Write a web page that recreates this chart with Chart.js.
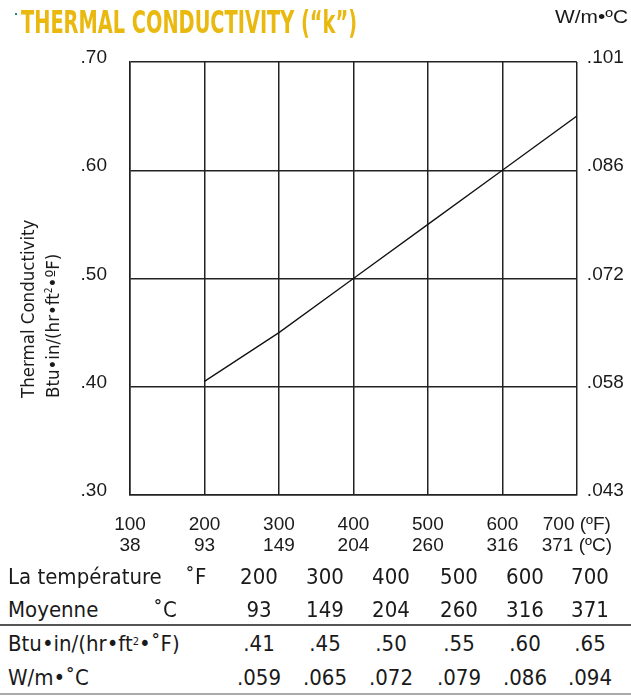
<!DOCTYPE html>
<html>
<head>
<meta charset="utf-8">
<script src="https://cdn.jsdelivr.net/npm/chart.js@4.4.1/dist/chart.umd.min.js"></script>
<style>
  html, body { margin:0; padding:0; background:#fff; width:631px; height:696px; overflow:hidden; }
  #wrap { position:relative; width:631px; height:696px; font-family:'DejaVu Sans Condensed','Liberation Sans',sans-serif; color:#1a1a1a; }
  canvas#c { position:absolute; left:0; top:0; }
  .abs { position:absolute; white-space:nowrap; line-height:1; }
  #dot { position:absolute; left:15px; top:13px; width:2px; height:2px; background:#1a8a7a; }
  #title { left:21px; top:6px; font-size:32px; font-weight:bold; color:#EAB90F; transform-origin:0 0; }
  #unit { left:555px; top:7px; font-size:19px; font-family:'Liberation Sans',sans-serif; transform-origin:0 0; }
  #ytitle { left:17px; top:398px; font-size:18.5px; line-height:21px; transform-origin:0 0; transform:rotate(-90deg); }
  .tr { font-size:22px; }
  .num { text-align:center; width:60px; }
  .rule { position:absolute; left:0; width:631px; }
</style>
</head>
<body>
<div id="wrap">
  <canvas id="c" width="631" height="565"></canvas>
  <div id="dot"></div>
  <div id="title" class="abs">THERMAL CONDUCTIVITY (“k”)</div>
  <div id="unit" class="abs">W/m•ºC</div>
  <div id="ytitle" class="abs">Thermal Conductivity<br>Btu•in/(hr•ft<sup style="font-size:10px;vertical-align:7px">2</sup>•ºF)</div>
  <div id="table"></div>
</div>
<script>
// ---- data ----
const tempF = [100, 200, 300, 400, 500, 600, 700];
const tempC = [38, 93, 149, 204, 260, 316, 371];
const lineTempF = [200, 300, 400, 500, 600, 700];
const lineK = [0.405, 0.45, 0.50, 0.55, 0.60, 0.65];
const leftTicks = [0.30, 0.40, 0.50, 0.60, 0.70];
const leftTickLabels = ['.30', '.40', '.50', '.60', '.70'];
const rightTickLabels = ['.043', '.058', '.072', '.086', '.101'];
const tableF = ['200', '300', '400', '500', '600', '700'];
const tableC = ['93', '149', '204', '260', '316', '371'];
const tableBtu = ['.41', '.45', '.50', '.55', '.60', '.65'];
const tableW = ['.059', '.065', '.072', '.079', '.086', '.094'];

const TICKFONT = "'Liberation Sans','Arimo',sans-serif";
const INK = '#1a1a1a';
const GRID = '#222';

function labelFor(v, labels) {
  for (let i = 0; i < leftTicks.length; i++) if (Math.abs(leftTicks[i] - v) < 1e-6) return labels[i];
  return '';
}

new Chart(document.getElementById('c'), {
  type: 'line',
  data: {
    datasets: [{
      data: lineTempF.map((t, i) => ({ x: t, y: lineK[i] })),
      borderColor: '#111',
      borderWidth: 1.3,
      pointRadius: 0,
      tension: 0,
      fill: false,
      yAxisID: 'y'
    }]
  },
  options: {
    responsive: false,
    animation: false,
    events: [],
    layout: { padding: { top: 62, left: 0, right: 0, bottom: 0 } },
    plugins: { legend: { display: false }, tooltip: { enabled: false } },
    scales: {
      x: {
        type: 'linear', min: 100, max: 700,
        afterBuildTicks: (s) => { s.ticks = tempF.map(v => ({ value: v })); },
        afterFit: (s) => { s.height = 70; },
        grid: { color: GRID, lineWidth: 1.5, drawTicks: false },
        border: { color: GRID, width: 1.5 },
        ticks: {
          padding: 19, color: INK, maxRotation: 0, autoSkip: false,
          font: { family: TICKFONT, size: 19, lineHeight: 1.13 },
          callback: (v) => {
            const i = tempF.indexOf(v);
            if (i < 0) return '';
            return i === tempF.length - 1 ? [tempF[i] + ' (ºF)', tempC[i] + ' (ºC)'] : [String(tempF[i]), String(tempC[i])];
          }
        }
      },
      y: {
        type: 'linear', position: 'left', min: 0.30, max: 0.70,
        afterBuildTicks: (s) => { s.ticks = leftTicks.map(v => ({ value: v })); },
        afterFit: (s) => { s.width = 130; },
        grid: { color: GRID, lineWidth: 1.5, drawTicks: false },
        border: { color: GRID, width: 1.5 },
        ticks: {
          padding: 23, color: INK, autoSkip: false, labelOffset: -4,
          font: { family: TICKFONT, size: 19 },
          callback: (v) => labelFor(v, leftTickLabels)
        }
      },
      y2: {
        type: 'linear', position: 'right', min: 0.30, max: 0.70,
        afterBuildTicks: (s) => { s.ticks = leftTicks.map(v => ({ value: v })); },
        afterFit: (s) => { s.width = 51; },
        grid: { display: false, drawTicks: false },
        border: { display: false },
        ticks: {
          padding: 10, color: INK, autoSkip: false, labelOffset: -4,
          font: { family: TICKFONT, size: 19 },
          callback: (v) => labelFor(v, rightTickLabels)
        }
      }
    }
  }
});

// ---- fit header texts horizontally ----
function fitWidth(id, target) {
  const el = document.getElementById(id);
  const w = el.getBoundingClientRect().width;
  el.style.transform = 'scaleX(' + (target / w) + ')';
}
fitWidth('title', 336);
fitWidth('unit', 73);

// ---- table below chart ----
const table = document.getElementById('table');
const colX = [259, 325, 391, 459, 525, 590];
const rows = [
  { label: 'La température', vals: tableF, y: 566, extra: '˚F', ex: 185 },
  { label: 'Moyenne', vals: tableC, y: 599, extra: '˚C', ex: 153 },
  { label: 'Btu•in/(hr•ft<sup style="font-size:11px;vertical-align:6px">2</sup>•˚F)', vals: tableBtu, y: 633 },
  { label: 'W/m•˚C', vals: tableW, y: 667 }
];
rows.forEach(r => {
  const l = document.createElement('div');
  l.className = 'abs tr';
  l.style.left = '8px'; l.style.top = r.y + 'px';
  l.innerHTML = r.label;
  table.appendChild(l);
  if (r.extra) {
    const e = document.createElement('div');
    e.className = 'abs tr';
    e.style.left = r.ex + 'px'; e.style.top = r.y + 'px';
    e.textContent = r.extra;
    table.appendChild(e);
  }
  r.vals.forEach((v, i) => {
    const d = document.createElement('div');
    d.className = 'abs tr num';
    d.style.left = (colX[i] - 30) + 'px'; d.style.top = r.y + 'px';
    d.textContent = v;
    table.appendChild(d);
  });
});
const r1 = document.createElement('div');
r1.className = 'rule'; r1.style.top = '624px'; r1.style.height = '2px'; r1.style.background = '#555';
table.appendChild(r1);
const r2 = document.createElement('div');
r2.className = 'rule'; r2.style.top = '693px'; r2.style.height = '2px'; r2.style.background = '#aaa';
table.appendChild(r2);
</script>
</body>
</html>
